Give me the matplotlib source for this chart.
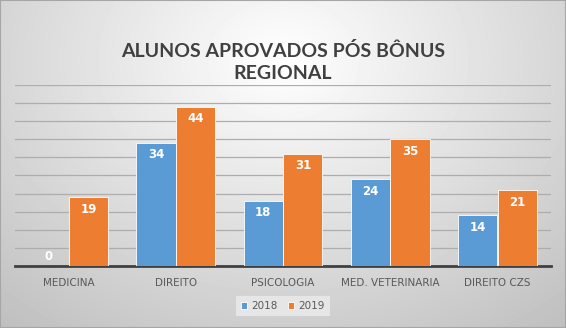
import numpy as np
import matplotlib.pyplot as plt

categories = ['MEDICINA', 'DIREITO', 'PSICOLOGIA', 'MED. VETERINARIA', 'DIREITO CZS']
series_names = ['2018', '2019']
vals_2018 = [0, 34, 18, 24, 14]
vals_2019 = [19, 44, 31, 35, 21]
colors = ['#5B9BD5', '#ED7D31']

fig = plt.figure(figsize=(5.66, 3.28), dpi=100)

# radial grey background
bg = fig.add_axes([0, 0, 1, 1], zorder=-10)
yy, xx = np.mgrid[0:328, 0:566]
r = np.sqrt(((xx - 283) / 420.0) ** 2 + ((yy - 60) / 330.0) ** 2)
shade = np.clip(1.0 - 0.24 * r, 0, 1)
bg.imshow(shade, cmap='gray', vmin=0, vmax=1, aspect='auto', extent=[0, 1, 0, 1])
bg.add_patch(plt.Rectangle((0, 0), 1, 1, fill=False, edgecolor='#a6a6a6', lw=1.5,
                           transform=bg.transAxes))
bg.set_axis_off()

ax = fig.add_axes([0.0265, 0.189, 0.947, 0.552])
ax.set_facecolor('none')
x = np.arange(len(categories))
w = 0.365
off = 0.185
b1 = ax.bar(x - off, vals_2018, w, color=colors[0], edgecolor='white', lw=0.6, label=series_names[0], zorder=3)
b2 = ax.bar(x + off, vals_2019, w, color=colors[1], edgecolor='white', lw=0.6, label=series_names[1], zorder=3)

for bars, vals in ((b1, vals_2018), (b2, vals_2019)):
    for rect, v in zip(bars, vals):
        ax.annotate(str(v), (rect.get_x() + rect.get_width() / 2, v), xytext=(0, -4 if v > 0 else 2),
                    textcoords='offset points', ha='center', va='top' if v > 0 else 'bottom',
                    color='white', fontweight='bold', fontsize=8.5, zorder=4)

ax.set_xlim(-0.5, len(categories) - 0.5)
ax.set_ylim(0, 50)
ax.set_yticks(np.arange(0, 51, 5))
ax.yaxis.grid(True, color='#adadad', lw=0.9, zorder=0)
ax.tick_params(axis='y', left=False, labelleft=False)
ax.tick_params(axis='x', bottom=False, labelsize=7.5, labelcolor='#595959', pad=5)
ax.set_xticks(x)
ax.set_xticklabels(categories)
for s in ['top', 'left', 'right']:
    ax.spines[s].set_visible(False)
ax.spines['bottom'].set_color('#404040')
ax.spines['bottom'].set_linewidth(2)

fig.text(0.5, 0.81, 'ALUNOS APROVADOS PÓS BÔNUS\nREGIONAL', ha='center', va='center',
         fontsize=14, fontweight='bold', color='#404040', linespacing=1.35,
         family=['Lato', 'DejaVu Sans'])

leg = fig.legend(loc='center', bbox_to_anchor=(0.5, 0.067), ncol=2, fontsize=7.5,
                 frameon=True, fancybox=False, handlelength=0.6, handleheight=0.6,
                 handletextpad=0.4, columnspacing=1.0, borderpad=0.5)
leg.get_frame().set_facecolor('#e6e6e6')
leg.get_frame().set_edgecolor('none')
leg.get_frame().set_alpha(1)
for t in leg.get_texts():
    t.set_color('#595959')

fig.savefig('out.png', dpi=100)
